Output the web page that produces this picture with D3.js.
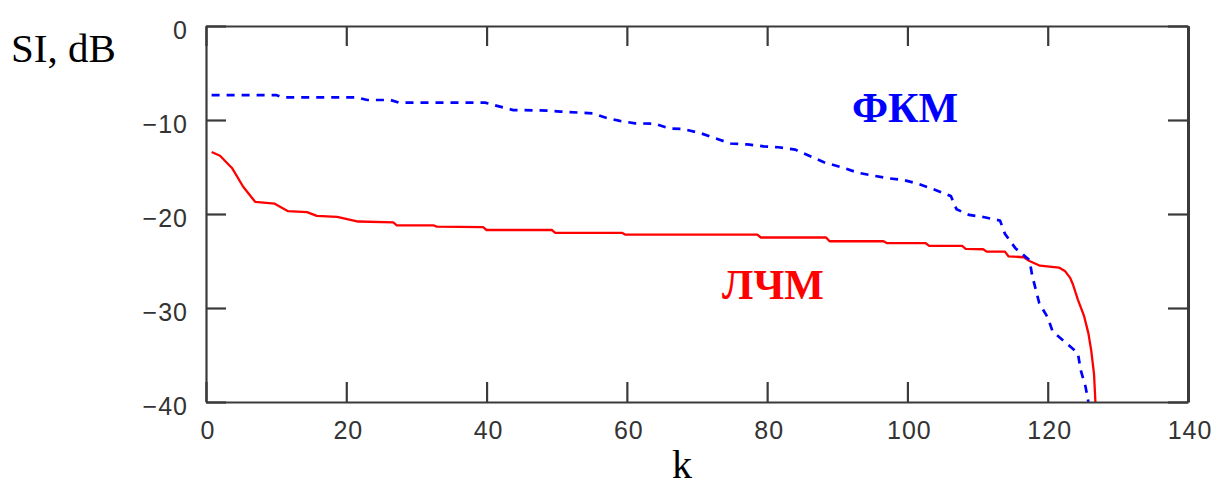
<!DOCTYPE html>
<html>
<head>
<meta charset="utf-8">
<script src="https://cdn.jsdelivr.net/npm/d3@7"></script>
<style>
  html, body { margin: 0; padding: 0; background: #fff; }
  svg { display: block; }
</style>
</head>
<body>
<svg id="chart" width="1216" height="487"></svg>
<script>
// Sidelobe level SI (dB) versus k for two pulse-compression codes.
const xTicks = [0, 20, 40, 60, 80, 100, 120, 140];
const yTicks = [0, -10, -20, -30, -40];

// ЛЧМ (linear FM), solid red
const lfmK = [0.8, 2, 3.7, 5.3, 7, 9.8, 11.7, 14.4, 15.8, 18.7, 21.7, 26.7, 27.2, 32.4, 32.9,
  39.5, 40, 49.3, 49.8, 59.3, 59.8, 78.6, 79.1, 88.4, 88.9, 96.6, 97.1, 102.6, 103.1, 107.8,
  108.3, 110.8, 111.3, 113.9, 114.4, 116.6, 117.4, 118.9, 121.6, 122.5, 123.2, 123.6, 124.3,
  125.2, 125.8, 126.2, 126.6, 126.8];
const lfmSI = [-13.4, -13.8, -15.1, -17.1, -18.7, -18.9, -19.7, -19.8, -20.2, -20.3, -20.8, -20.9, -21.2, -21.2, -21.35,
  -21.4, -21.7, -21.7, -22.0, -22.0, -22.2, -22.2, -22.5, -22.5, -22.9, -22.9, -23.1, -23.1, -23.4, -23.4,
  -23.7, -23.75, -24.0, -24.0, -24.5, -24.6, -25.0, -25.5, -25.7, -26.1, -26.8, -27.5, -29.1,
  -30.9, -32.7, -34.5, -37, -40];

// ФКМ (phase-coded), dashed blue
const pskK = [0.8, 10, 11, 21.5, 23, 26.3, 27.5, 39.8, 41.5, 43.8, 48.7, 50.5, 55.2, 57.2, 59,
  61.2, 64, 66, 68, 70.5, 72.6, 74.8, 77.2, 79.5, 81.6, 84, 88.1, 90.7, 92.9, 95, 97.3, 99.5,
  101.6, 104, 106.2, 107, 108.8, 111, 113.2, 113.9, 115.4, 117.4, 117.8, 118.8, 120, 120.7,
  122.6, 124.3, 124.7, 125.4, 125.8];
const pskSI = [-7.35, -7.35, -7.6, -7.6, -7.87, -7.87, -8.16, -8.16, -8.5, -8.94, -9.0, -9.1, -9.3, -9.8, -10.1,
  -10.35, -10.4, -10.9, -10.96, -11.4, -11.95, -12.5, -12.6, -12.8, -12.9, -13.15, -14.5, -15.05, -15.6, -15.9, -16.2, -16.4,
  -16.8, -17.45, -18.1, -19.5, -20.1, -20.35, -20.7, -22.1, -23.65, -24.9, -26.6, -29.5, -31.0, -32.5,
  -33.7, -34.8, -36.6, -38.4, -40];

const svg = d3.select("#chart");
const plotLeft = 206, plotRight = 1188, plotTop = 26, plotBottom = 402;
const x = d3.scaleLinear().domain([0, 140]).range([plotLeft, plotRight]);
const y = d3.scaleLinear().domain([-40, 0]).range([plotBottom, plotTop]);

const axisColor = "#3a3a3a";
const tickLen = 20;
const labelFont = "'Liberation Sans', Arial, sans-serif";

// Series
const line = d3.line().x(d => x(d[0])).y(d => y(d[1]));
svg.append("path")
  .datum(lfmK.map((k, i) => [k, lfmSI[i]]))
  .attr("d", line).attr("fill", "none")
  .attr("stroke", "#ff0000").attr("stroke-width", 2.3).attr("stroke-linejoin", "round");
svg.append("path")
  .datum(pskK.map((k, i) => [k, pskSI[i]]))
  .attr("d", line).attr("fill", "none")
  .attr("stroke", "#0000ff").attr("stroke-width", 2.7)
  .attr("stroke-dasharray", "8,7");

// Axes on all four sides, ticks pointing inward
const axes = [
  { axis: d3.axisBottom(x), t: `translate(0,${plotBottom})` },
  { axis: d3.axisTop(x), t: `translate(0,${plotTop})` },
  { axis: d3.axisLeft(y), t: `translate(${plotLeft},0)` },
  { axis: d3.axisRight(y), t: `translate(${plotRight},0)` }
];
axes.forEach(({ axis, t }, i) => {
  const vals = i < 2 ? xTicks : yTicks;
  const g = svg.append("g").attr("transform", t)
    .call(axis.tickValues(vals).tickSizeInner(-tickLen).tickSizeOuter(0).tickFormat(""));
  g.select(".domain").attr("stroke", axisColor).attr("stroke-width", i === 3 ? 3 : 2.2);
  g.selectAll(".tick line").attr("stroke", axisColor).attr("stroke-width", 2.2);
});

// Tick labels
svg.append("g").selectAll("text").data(xTicks).join("text")
  .attr("x", d => x(d) + 2).attr("y", 439)
  .attr("text-anchor", "middle")
  .attr("font-family", labelFont).attr("font-size", 25).attr("letter-spacing", 1).attr("fill", "#333")
  .text(d => d);
svg.append("g").selectAll("text").data(yTicks).join("text")
  .attr("x", 188).attr("y", d => y(d) + 13)
  .attr("text-anchor", "end")
  .attr("font-family", labelFont).attr("font-size", 25).attr("letter-spacing", 1).attr("fill", "#333")
  .text(d => d === 0 ? "0" : "\u2212" + Math.abs(d));

// Axis titles
const serif = "'Liberation Serif', 'Times New Roman', serif";
svg.append("text").attr("x", 11).attr("y", 62)
  .attr("font-family", serif).attr("font-size", 41).attr("fill", "#000")
  .text("SI, dB");
svg.append("text").attr("x", 682).attr("y", 478).attr("text-anchor", "middle")
  .attr("font-family", serif).attr("font-size", 40).attr("fill", "#000")
  .text("k");

// Series labels
svg.append("text").attr("x", 905).attr("y", 122).attr("text-anchor", "middle")
  .attr("font-family", serif).attr("font-weight", "bold").attr("font-size", 42).attr("fill", "#0000ff")
  .text("ФКМ");
svg.append("text").attr("x", 773).attr("y", 299).attr("text-anchor", "middle")
  .attr("font-family", serif).attr("font-weight", "bold").attr("font-size", 42).attr("fill", "#ff0000")
  .text("ЛЧМ");
</script>
</body>
</html>
